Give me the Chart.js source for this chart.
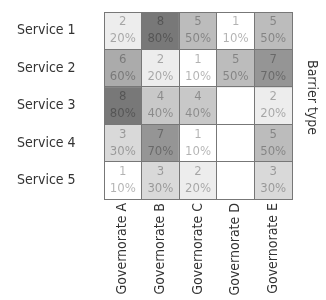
<!DOCTYPE html>
<html>
<head>
<meta charset="utf-8">
<script src="https://cdn.jsdelivr.net/npm/chart.js@4/dist/chart.umd.min.js"></script>
<style>
	html, body { margin: 0; padding: 0; background: #fff; }
	#wrap { width: 326px; height: 300px; }
</style>
</head>
<body>
<div id="wrap"><canvas id="myCanvas"></canvas></div>
<script>
const governorates = ["Governorate A", "Governorate B", "Governorate C", "Governorate D", "Governorate E"];
const services = ["Service 1", "Service 2", "Service 3", "Service 4", "Service 5"];
const sideTitle = "Barrier type";

// counts per service row, A..E (null = empty cell)
const service1 = [2, 8, 5, 1, 5];
const service2 = [6, 2, 1, 5, 7];
const service3 = [8, 4, 4, null, 2];
const service4 = [3, 7, 1, null, 5];
const service5 = [1, 3, 2, null, 3];

const service1Pct = [20, 80, 50, 10, 50];
const service2Pct = [60, 20, 10, 50, 70];
const service3Pct = [80, 40, 40, null, 20];
const service4Pct = [30, 70, 10, null, 50];
const service5Pct = [10, 30, 20, null, 30];

const rows = [service1, service2, service3, service4, service5];
const pcts = [service1Pct, service2Pct, service3Pct, service4Pct, service5Pct];

const font = "'Liberation Sans Narrow', 'DejaVu Sans Condensed', Roboto, sans-serif";
Chart.defaults.font.family = font;
Chart.defaults.font.size = 14;
Chart.defaults.color = "#333";

// gray shade for each count 0..8
const shades = ["#ffffff", "#ffffff", "#ededed", "#d9d9d9", "#c8c8c8", "#bcbcbc", "#ababab", "#959595", "#787878"];
function cellColor(v) {
	return v === null ? "#ffffff" : shades[v];
}

const cellText = {
	id: "cellText",
	afterDatasetsDraw(chart) {
		const c = chart.ctx;
		c.save();
		c.fillStyle = "rgba(0, 0, 0, 0.3)";
		c.textAlign = "center";
		c.textBaseline = "middle";
		c.font = "13px " + font;
		chart.data.datasets.forEach((ds, i) => {
			chart.getDatasetMeta(i).data.forEach((bar, j) => {
				if (rows[i][j] === null) return;
				const p = bar.getProps(["x", "y", "base"], true);
				const top = Math.min(p.y, p.base);
				c.fillText(String(rows[i][j]), p.x, top + 10);
				c.fillText(pcts[i][j] + "%", p.x, top + 27);
			});
		});
		c.restore();
	},
	afterDraw(chart) {
		const c = chart.ctx;
		const a = chart.chartArea;
		c.save();
		c.fillStyle = "#333";
		c.font = "14px " + font;
		c.textAlign = "center";
		c.textBaseline = "middle";
		c.translate(a.right + 20, (a.top + a.bottom) / 2 - 8);
		c.rotate(Math.PI / 2);
		c.fillText(sideTitle, 0, 0);
		c.restore();
	},
};

const ctx = document.getElementById("myCanvas").getContext("2d");
const myChart = new Chart(ctx, {
	type: "bar",
	data: {
		labels: governorates,
		datasets: rows.map((r, i) => ({
			label: services[i],
			data: r.map(() => 1),
			backgroundColor: r.map(cellColor),
			borderWidth: 0,
			barPercentage: 1,
			categoryPercentage: 1,
		})),
	},
	plugins: [cellText],
	options: {
		responsive: true,
		maintainAspectRatio: false,
		animation: false,
		layout: { padding: { left: 17, top: 12, right: 34, bottom: 0 } },
		plugins: {
			legend: { display: false },
			tooltip: { enabled: false },
		},
		scales: {
			x: {
				stacked: true,
				grid: { color: "#777", offset: true, drawTicks: false, z: 1 },
				border: { color: "#777", z: 1 },
				ticks: { minRotation: 90, maxRotation: 90, padding: 4 },
				afterFit(scale) { scale.height = 101; },
			},
			y: {
				stacked: true,
				reverse: true,
				min: 0,
				max: 5,
				grid: { color: "#777", offset: true, drawTicks: false, z: 1 },
				border: { color: "#777", z: 1 },
				afterBuildTicks(scale) {
					scale.ticks = services.map((s, i) => ({ value: i + 0.5 }));
				},
				ticks: {
					crossAlign: "far",
					callback: (value, index) => services[index],
				},
				afterFit(scale) { scale.width = 87; },
			},
		},
	},
});
</script>
</body>
</html>
